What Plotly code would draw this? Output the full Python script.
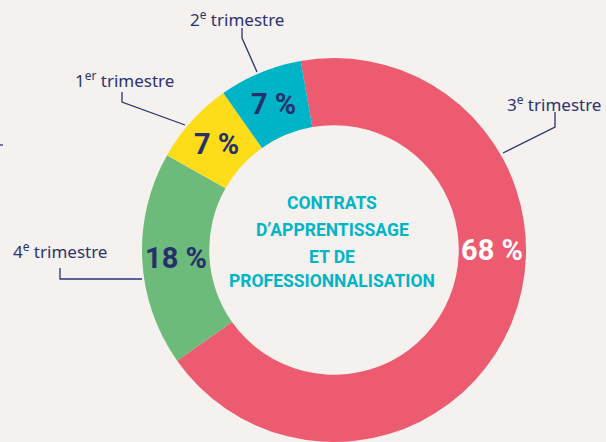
import math
import plotly.graph_objects as go

# ---- data ----
labels = ["3<sup>e</sup> trimestre", "4<sup>e</sup> trimestre", "1<sup>er</sup> trimestre", "2<sup>e</sup> trimestre"]
values = [68, 18, 7, 7]
colors = ["#ec5b6f", "#6cbb7a", "#fddd1a", "#00b4c7"]
pct_text = ["68 %", "18 %", "7 %", "7 %"]
pct_colors = ["#ffffff", "#27306a", "#27306a", "#27306a"]
center_lines = ["CONTRATS", "D’APPRENTISSAGE", "ET DE", "PROFESSIONNALISATION"]

W, H = 606, 442
BG = "#f4f1ee"
NAVY = "#2b3470"
COND = "Roboto, Liberation Sans, sans-serif"
LABF = "Noto Sans, Lato, sans-serif"

cx, cy, R = 334, 250, 192
hole = 0.65
rotation = -10

def px(x):
    return x / W

def py(y):
    return 1 - y / H

fig = go.Figure(go.Pie(
    labels=labels, values=values, sort=False, direction="clockwise",
    rotation=rotation, hole=hole,
    marker=dict(colors=colors, line=dict(width=0)),
    textinfo="none", hoverinfo="skip", showlegend=False,
    domain=dict(x=[px(cx - R), px(cx + R)], y=[py(cy + R), py(cy - R)]),
))

annotations = []
# percentage labels placed at ring mid-radius
rmid = R * (1 + hole) / 2
total = sum(values)
start = rotation
angle_override = {0: 90}
for i, v in enumerate(values):
    span = 360 * v / total
    mid = start + span / 2
    start += span
    a = angle_override.get(i, mid)
    x = cx + rmid * math.sin(math.radians(a))
    y = cy - rmid * math.cos(math.radians(a))
    annotations.append(dict(
        x=px(x), y=py(y), xref="paper", yref="paper", showarrow=False,
        text="<b>%s</b>" % pct_text[i], xanchor="center", yanchor="middle",
        font=dict(family=COND, size=29, color=pct_colors[i]),
    ))

center_y = [203, 230, 257, 281]
for line, y in zip(center_lines, center_y):
    annotations.append(dict(
        x=px(332), y=py(y), xref="paper", yref="paper", showarrow=False,
        text="<b>%s</b>" % line, xanchor="center", yanchor="middle",
        font=dict(family=COND, size=17.5, color="#00b5c8"),
    ))

# category labels
label_pos = [(554, 103), (60, 250), (124, 79), (237, 19)]
for lab, (x, y) in zip(labels, label_pos):
    annotations.append(dict(
        x=px(x), y=py(y), xref="paper", yref="paper", showarrow=False,
        text=lab, xanchor="center", yanchor="middle",
        font=dict(family=LABF, size=17, color=NAVY),
    ))

leaders = [
    [(555, 112), (555, 127), (503, 153)],
    [(60, 268), (60, 279), (142, 279)],
    [(122, 92), (122, 102), (185, 125)],
    [(242, 28), (242, 38), (257, 72)],
    [(0, 145), (3, 145)],
]
shapes = []
for pts in leaders:
    path = "M " + " L ".join("%f,%f" % (px(a), py(b)) for a, b in pts)
    shapes.append(dict(type="path", path=path, xref="paper", yref="paper",
                       line=dict(color=NAVY, width=1.3)))

fig.update_layout(
    width=W, height=H, margin=dict(l=0, r=0, t=0, b=0),
    paper_bgcolor=BG, plot_bgcolor=BG,
    annotations=annotations, shapes=shapes,
)

fig.write_html("out.html", config={"displayModeBar": False},
               post_script="document.body.style.margin='0';document.body.style.overflow='hidden';")
